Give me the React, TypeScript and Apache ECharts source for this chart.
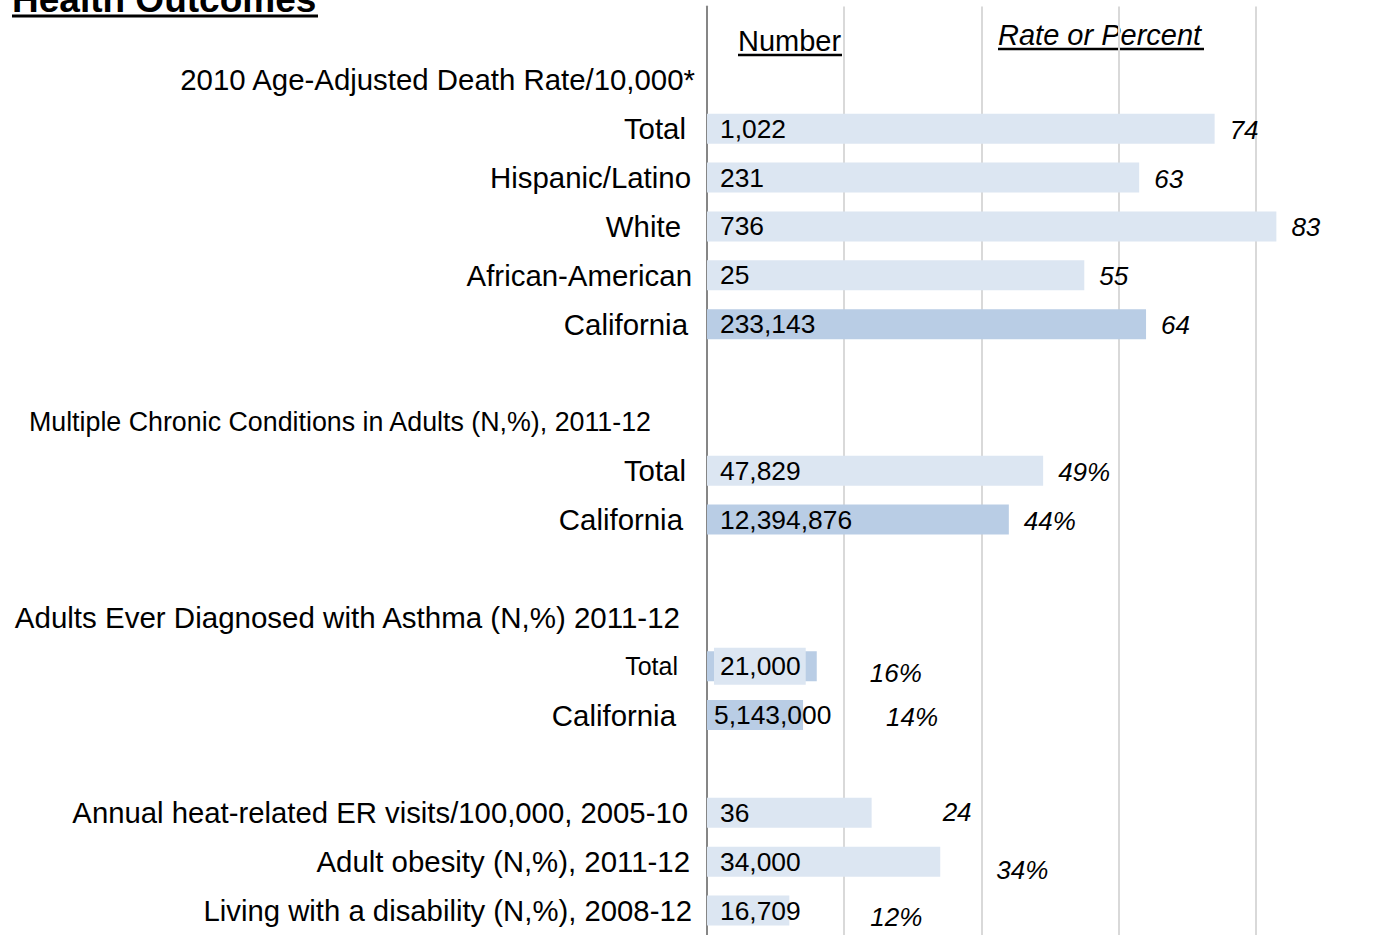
import React, { useEffect, useRef } from "react";
import * as echarts from "echarts";

// ---------- data ----------
const categories = [
  "",
  "2010 Age-Adjusted Death Rate/10,000*",
  "Total",
  "Hispanic/Latino",
  "White",
  "African-American",
  "California",
  "",
  "Multiple Chronic Conditions in Adults (N,%), 2011-12",
  "Total",
  "California",
  "",
  "Adults Ever Diagnosed with Asthma (N,%) 2011-12",
  "Total",
  "California",
  "",
  "Annual heat-related ER visits/100,000, 2005-10",
  "Adult obesity (N,%), 2011-12",
  "Living with a disability (N,%), 2008-12",
];

const numberLabels = [
  "", "", "1,022", "231", "736", "25", "233,143", "",
  "", "47,829", "12,394,876", "",
  "", "21,000", "5,143,000", "",
  "36", "34,000", "16,709",
];

const rates: (number | null)[] = [
  null, null, 74, 63, 83, 55, 64, null,
  null, 49, 44, null,
  null, 16, 14, null,
  24, 34, 12,
];

const percentRows = [9, 10, 13, 14, 17, 18];
const californiaRows = [6, 10, 13, 14];

// ---------- styling / layout ----------
const FONT = '"Liberation Sans", Arial, Helvetica, sans-serif';
const LIGHT = "#dce6f2";
const DARK = "#b9cde5";

// per-row category label size and right padding (layout only)
const rowLabelStyle: Record<number, { size: number; pad: number }> = {
  1: { size: 29.4, pad: 0 },
  2: { size: 29.4, pad: 9 },
  3: { size: 29.4, pad: 4 },
  4: { size: 29.4, pad: 14 },
  5: { size: 29.4, pad: 3 },
  6: { size: 29.4, pad: 7 },
  8: { size: 26.8, pad: 44 },
  9: { size: 29.4, pad: 9 },
  10: { size: 29.4, pad: 12 },
  12: { size: 29.5, pad: 15 },
  13: { size: 25, pad: 17 },
  14: { size: 29.4, pad: 19 },
  16: { size: 29.3, pad: 7 },
  17: { size: 29.4, pad: 5 },
  18: { size: 29.3, pad: 3 },
};

// rate label shifts (layout only)
const rateLabelShift: Record<number, [number, number]> = {
  13: [38, 7],
  14: [68, 2],
  16: [56, -1],
  17: [41, 8],
  18: [66, 6],
};

export default function App() {
  const ref = useRef<HTMLDivElement>(null);

  useEffect(() => {
    if (!ref.current) return;
    const chart = echarts.init(ref.current, undefined, { renderer: "svg" });

    const rich: Record<string, any> = {};
    Object.keys(rowLabelStyle).forEach((k) => {
      const s = rowLabelStyle[Number(k)];
      rich["r" + k] = {
        fontSize: s.size,
        fontFamily: FONT,
        color: "#000",
        padding: [0, s.pad, 0, 0],
        align: "right",
      };
    });

    const barData = rates.map((v, i) => {
      if (v == null) return null;
      const item: any = {
        value: v,
        itemStyle: { color: californiaRows.includes(i) ? DARK : LIGHT },
      };
      if (i === 13) {
        item.label = {
          backgroundColor: LIGHT,
          padding: [6, 5, 5, 6],
          distance: 7,
        };
      }
      if (i === 14) {
        item.label = { distance: 7 };
      }
      return item;
    });

    const rateData = rates.map((v, i) => {
      if (v == null) return null;
      const sh = rateLabelShift[i] || [0, 1];
      return { value: v, label: { offset: sh } };
    });

    chart.setOption({
      animation: false,
      grid: { left: 707, top: 6.5, width: 686, height: 931, containLabel: false },
      xAxis: {
        type: "value",
        min: 0,
        max: 100,
        interval: 20,
        axisLabel: { show: false },
        axisTick: { show: false },
        axisLine: { show: false },
        splitLine: { show: true, lineStyle: { color: "#d9d9d9", width: 2 } },
      },
      yAxis: {
        type: "category",
        inverse: true,
        data: categories,
        axisTick: { show: false },
        axisLine: { show: true, lineStyle: { color: "#868686", width: 2 } },
        axisLabel: {
          margin: 12,
          interval: 0,
          formatter: (value: string, index: number) =>
            value ? `{r${index}|${value}}` : "",
          rich,
        },
      },
      series: [
        {
          type: "bar",
          data: barData,
          barWidth: 30,
          z: 2,
          label: {
            show: true,
            position: "insideLeft",
            distance: 13,
            formatter: (p: any) => numberLabels[p.dataIndex],
            fontSize: 26.4,
            fontFamily: FONT,
            color: "#000",
          },
        },
        {
          type: "bar",
          data: rateData,
          barWidth: 30,
          barGap: "-100%",
          z: 3,
          silent: true,
          itemStyle: { color: "rgba(0,0,0,0)" },
          label: {
            show: true,
            position: "right",
            distance: 15,
            formatter: (p: any) =>
              percentRows.includes(p.dataIndex) ? `${p.value}%` : `${p.value}`,
            fontSize: 26,
            fontStyle: "italic",
            fontFamily: FONT,
            color: "#000",
          },
        },
      ],
      graphic: [
        {
          type: "text",
          x: 12,
          y: -1,
          style: {
            text: "Health Outcomes",
            fontSize: 37,
            fontWeight: "bold",
            fontFamily: FONT,
            fill: "#000",
            verticalAlign: "middle",
          },
        },
        {
          type: "line",
          shape: { x1: 12, y1: 16, x2: 318, y2: 16 },
          style: { stroke: "#000", lineWidth: 3 },
        },
        {
          type: "text",
          x: 738,
          y: 41,
          style: {
            text: "Number",
            fontSize: 29,
            fontFamily: FONT,
            fill: "#000",
            verticalAlign: "middle",
          },
        },
        {
          type: "line",
          shape: { x1: 738, y1: 55, x2: 842, y2: 55 },
          style: { stroke: "#000", lineWidth: 2.5 },
        },
        {
          type: "text",
          x: 998,
          y: 35,
          style: {
            text: "Rate or Percent",
            fontSize: 29,
            fontStyle: "italic",
            fontFamily: FONT,
            fill: "#000",
            verticalAlign: "middle",
          },
        },
        {
          type: "line",
          shape: { x1: 998, y1: 49, x2: 1204, y2: 49 },
          style: { stroke: "#000", lineWidth: 2.5 },
        },
      ],
    });

    return () => chart.dispose();
  }, []);

  return (
    <div
      ref={ref}
      style={{ position: "fixed", left: 0, top: 0, width: 1400, height: 935, background: "#fff" }}
    />
  );
}
